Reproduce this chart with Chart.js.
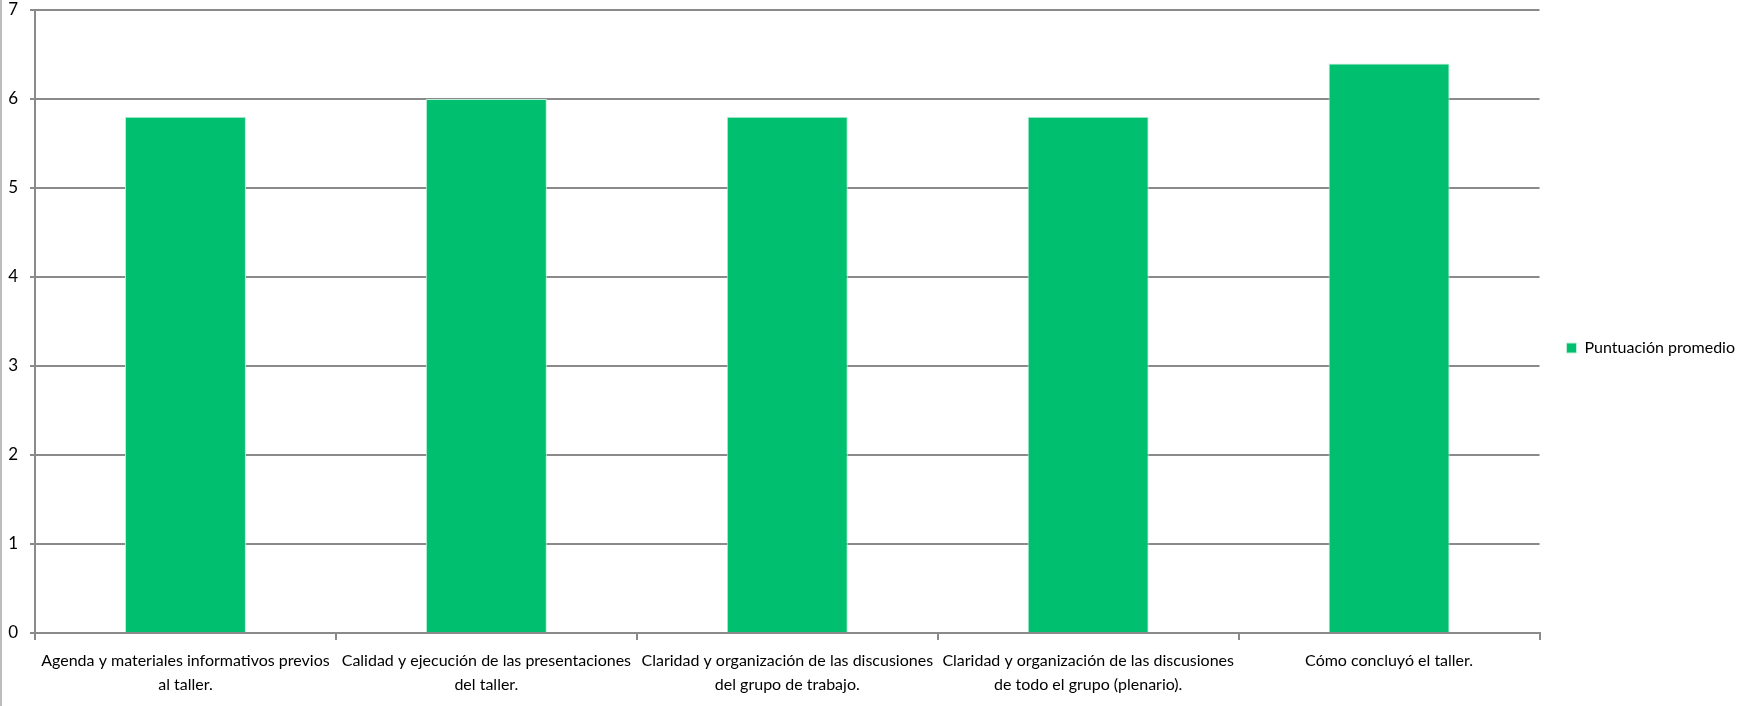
<!DOCTYPE html>
<html lang="es">
<head>
<meta charset="utf-8">
<title>Puntuación promedio del taller</title>
<script src="https://cdn.jsdelivr.net/npm/chart.js@4/dist/chart.umd.min.js"></script>
<style>
  html, body { margin: 0; padding: 0; background: #ffffff; }
  #wrap { position: relative; width: 1745px; height: 706px; }
</style>
</head>
<body>
<div id="wrap"><canvas id="chart" width="1745" height="706"></canvas></div>
<script>
// Aspectos evaluados del taller (etiquetas en dos líneas)
const categories = [
  ["Agenda y materiales informativos previos", "al taller."],
  ["Calidad y ejecución de las presentaciones", "del taller."],
  ["Claridad y organización de las discusiones", "del grupo de trabajo."],
  ["Claridad y organización de las discusiones", "de todo el grupo (plenario)."],
  ["Cómo concluyó el taller."]
];

// Puntuación promedio por aspecto
const seriesName = "Puntuación promedio";
const scores = [5.8, 6.0, 5.8, 5.8, 6.4];

// Escala del eje vertical
const yMin = 0;
const yMax = 7;
const yStep = 1;

const FONT = "Lato, 'Liberation Sans', sans-serif";
const GRID = '#8a8a8a';

// Línea gris del marco en el borde izquierdo
const leftEdge = {
  id: 'leftEdge',
  afterDraw(chart) {
    const ctx = chart.ctx;
    ctx.save();
    ctx.strokeStyle = '#bdbdbd';
    ctx.lineWidth = 2;
    ctx.beginPath();
    ctx.moveTo(1, 0);
    ctx.lineTo(1, chart.height);
    ctx.stroke();
    ctx.restore();
  }
};

// Sube ligeramente la leyenda respecto al centro del lienzo
const legendLift = {
  id: 'legendLift',
  afterLayout(chart) {
    if (chart.legend) {
      chart.legend.top -= 5;
      chart.legend.bottom -= 5;
    }
  }
};

new Chart(document.getElementById('chart'), {
  type: 'bar',
  data: {
    labels: categories,
    datasets: [{
      label: seriesName,
      data: scores,
      backgroundColor: '#00bf6f',
      borderColor: '#bfeed8',
      borderWidth: 1,
      categoryPercentage: 1.0,
      barPercentage: 0.402
    }]
  },
  options: {
    responsive: false,
    animation: false,
    layout: { padding: { top: 0, right: 0, bottom: 0, left: 0 } },
    plugins: {
      legend: {
        position: 'right',
        align: 'center',
        labels: {
          boxWidth: 10,
          boxHeight: 10,
          padding: 27,
          color: '#000000',
          font: { family: FONT, size: 16 }
        }
      },
      tooltip: { enabled: false }
    },
    scales: {
      x: {
        offset: true,
        afterFit(scale) { scale.height = 73; },
        grid: {
          offset: true,
          drawOnChartArea: false,
          drawTicks: true,
          tickLength: 7,
          color: GRID,
          lineWidth: 2
        },
        border: { display: true, color: GRID, width: 2 },
        ticks: {
          autoSkip: false,
          maxRotation: 0,
          minRotation: 0,
          padding: 9,
          color: '#000000',
          font: { family: FONT, size: 16, lineHeight: 1.5 }
        }
      },
      y: {
        min: yMin,
        max: yMax,
        afterFit(scale) {
          scale.width = 35;
          scale.paddingTop = 10;
          scale.paddingBottom = 0;
        },
        grid: {
          drawTicks: true,
          tickLength: 5,
          color: GRID,
          lineWidth: 2
        },
        border: { display: true, color: GRID, width: 2 },
        ticks: {
          stepSize: yStep,
          padding: 12,
          color: '#000000',
          font: { family: FONT, size: 17 }
        }
      }
    }
  },
  plugins: [leftEdge, legendLift]
});
</script>
</body>
</html>
